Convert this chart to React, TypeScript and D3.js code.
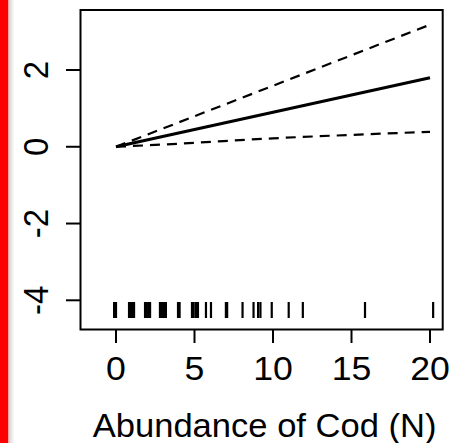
import React from "react";
import * as d3 from "d3";

const xTicks = [0, 5, 10, 15, 20];
const yTicks = [-4, -2, 0, 2];
const fitX = [0, 20];
const fitY = [0, 1.8];
const upperX = [0, 20];
const upperY = [0, 3.18];
const lowerX = [0, 4, 10, 15, 20];
const lowerY = [0, 0.08, 0.22, 0.31, 0.39];
const rugValues = [
  -0.12, -0.05, 0, 0.83, 0.95, 1.05, 1.15, 1.85, 1.95, 2.05, 2.17, 2.8, 2.9, 3.0, 3.1, 3.18,
  3.95, 4.05, 4.84, 4.95, 5.1, 5.22, 5.73, 6.05, 7.0, 7.08, 8.06, 8.76, 9.05, 9.2, 9.92,
  11.0, 11.9, 15.86, 20.2,
];
const xTitle = "Abundance of Cod (N)";

export default function App() {
  const W = 457, H = 443;
  const x = d3.scaleLinear().domain([0, 20]).range([116, 430]);
  const y = d3.scaleLinear().domain([-4, 2]).range([300.3, 70]);
  const box = { x1: 80.5, x2: 442.7, y1: 10, y2: 329.5 };
  const line = d3.line<[number, number]>().x(d => x(d[0])).y(d => y(d[1]));
  const lineC = d3.line<[number, number]>().x(d => x(d[0])).y(d => y(d[1])).curve(d3.curveMonotoneX);
  const fit = fitX.map((v, i) => [v, fitY[i]] as [number, number]);
  const up = upperX.map((v, i) => [v, upperY[i]] as [number, number]);
  const lo = lowerX.map((v, i) => [v, lowerY[i]] as [number, number]);
  const font = "'Liberation Sans', Arial, sans-serif";
  const fs = 33;
  const sx = 1.08;
  return (
    <svg width={W} height={H} style={{ position: "absolute", left: 0, top: 0, background: "#fff" }}>
      <defs>
        <linearGradient id="shade" x1="0" x2="1" y1="0" y2="0">
          <stop offset="0" stopColor="#cfcfcf" />
          <stop offset="1" stopColor="#ffffff" />
        </linearGradient>
      </defs>
      <rect x={0} y={0} width={W} height={H} fill="#fff" />
      <rect x={0} y={0} width={8.5} height={H} fill="#ff0000" />
      <rect x={8.5} y={0} width={6} height={H} fill="url(#shade)" />
      <rect x={box.x1} y={box.y1} width={box.x2 - box.x1} height={box.y2 - box.y1} fill="none" stroke="#000" strokeWidth={2} />
      {yTicks.map(t => (
        <g key={"y" + t}>
          <line x1={66} x2={box.x1} y1={y(t)} y2={y(t)} stroke="#000" strokeWidth={2} />
          <text
            transform={`translate(48,${y(t)}) scale(${sx},1) rotate(-90)`}
            textAnchor="middle"
            fontFamily={font}
            fontSize={fs}
          >
            {String(t)}
          </text>
        </g>
      ))}
      {xTicks.map(t => (
        <g key={"x" + t}>
          <line x1={x(t)} x2={x(t)} y1={box.y2} y2={343} stroke="#000" strokeWidth={2} />
          <text
            transform={`translate(${x(t)},380) scale(${sx},1)`}
            textAnchor="middle"
            fontFamily={font}
            fontSize={fs}
          >
            {String(t)}
          </text>
        </g>
      ))}
      <text
        transform={`translate(${(box.x1 + box.x2) / 2 + 3},437) scale(${sx * 0.97},1)`}
        textAnchor="middle"
        fontFamily={font}
        fontSize={fs}
      >
        {xTitle}
      </text>
      {rugValues.map((v, i) => (
        <line key={"r" + i} x1={x(v)} x2={x(v)} y1={302} y2={318} stroke="#000" strokeWidth={2.2} />
      ))}
      <path d={line(up) || ""} fill="none" stroke="#000" strokeWidth={2.2} strokeDasharray="10,7" />
      <path d={lineC(lo) || ""} fill="none" stroke="#000" strokeWidth={2.2} strokeDasharray="10,7" />
      <path d={line(fit) || ""} fill="none" stroke="#000" strokeWidth={3} />
    </svg>
  );
}
